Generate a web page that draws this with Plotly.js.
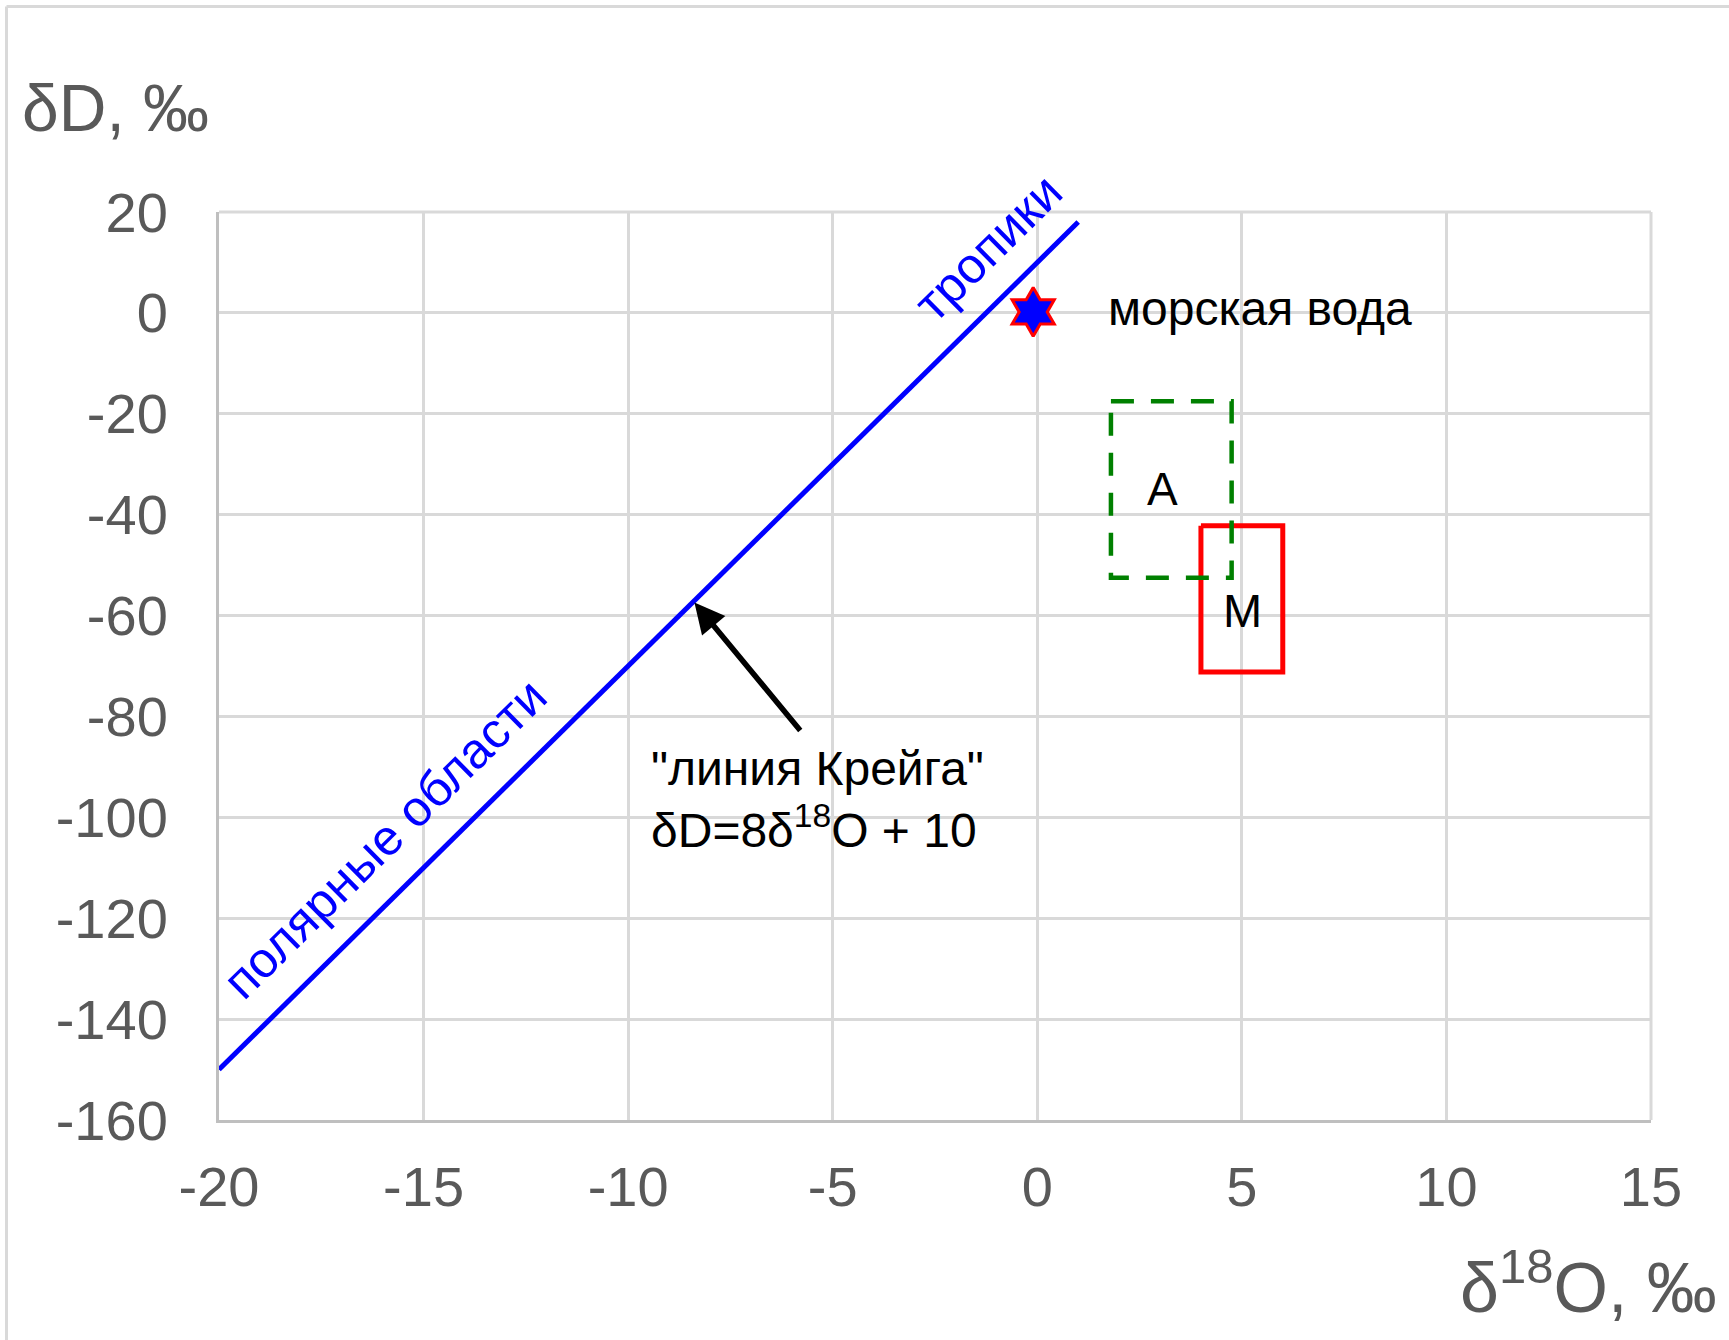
<!DOCTYPE html>
<html>
<head>
<meta charset="utf-8">
<script src="https://cdn.plot.ly/plotly-3.0.1.min.js"></script>
<style>html,body{margin:0;padding:0;background:#fff;}</style>
</head>
<body>
<div id="chart" style="width:1729px;height:1340px;"></div>
<script>
// ---- data ----
const craigX = [-20, 1];
const craigY = [-150, 18];
const seaX = [-0.1];
const seaY = [0.2];
const boxAX = [1.8, 4.75, 4.75, 1.8, 1.8];
const boxAY = [-17.5, -17.5, -52.5, -52.5, -17.5];
const boxMX = [4.0, 6.0, 6.0, 4.0, 4.0];
const boxMY = [-42.2, -42.2, -71.2, -71.2, -42.2];
const xTickVals = [-20, -15, -10, -5, 0, 5, 10, 15];
const xTickText = ['-20', '-15', '-10', '-5', '0', '5', '10', '15'];
const yTickVals = [20, 0, -20, -40, -60, -80, -100, -120, -140, -160];
const yTickText = ['20', '0', '-20', '-40', '-60', '-80', '-100', '-120', '-140', '-160'];

const FONT = 'Liberation Sans, Arial, sans-serif';
const traces = [
  {x: craigX, y: craigY, mode: 'lines', line: {color: '#0000ff', width: 5}, hoverinfo: 'skip'},
  {x: boxMX, y: boxMY, mode: 'lines', line: {color: '#ff0000', width: 5}, hoverinfo: 'skip'},
  {x: boxAX, y: boxAY, mode: 'lines', line: {color: '#008000', width: 4.5, dash: '23px,17px'}, hoverinfo: 'skip'},
  {x: seaX, y: seaY, mode: 'markers', marker: {symbol: 'hexagram', size: 37, color: '#0000ff', line: {color: '#ff0000', width: 3}}, hoverinfo: 'skip'}
];

const layout = {
  width: 1729, height: 1340,
  margin: {l: 219, r: 78, t: 212, b: 220},
  paper_bgcolor: '#ffffff', plot_bgcolor: '#ffffff',
  showlegend: false,
  font: {family: FONT},
  xaxis: {
    range: [-20, 15], tickvals: xTickVals, ticktext: xTickText,
    showgrid: true, gridcolor: '#d9d9d9', gridwidth: 3, zeroline: false,
    showline: true, linecolor: '#bfbfbf', linewidth: 3,
    ticks: '', ticklabelstandoff: 16,
    tickfont: {family: FONT, size: 56, color: '#595959'}
  },
  yaxis: {
    range: [-160, 20], tickvals: yTickVals, ticktext: yTickText,
    showgrid: true, gridcolor: '#d9d9d9', gridwidth: 3, zeroline: false,
    showline: true, linecolor: '#bfbfbf', linewidth: 3,
    ticks: '', ticklabelstandoff: 37,
    tickfont: {family: FONT, size: 56, color: '#595959'}
  },
  shapes: [
    {type: 'line', xref: 'paper', yref: 'paper', x0: -0.1484, x1: -0.1484, y0: 1.2263, y1: -0.25, line: {color: '#d9d9d9', width: 3}},
    {type: 'line', xref: 'paper', yref: 'paper', x0: -0.1484, x1: 1.06, y0: 1.2263, y1: 1.2263, line: {color: '#d9d9d9', width: 3}},
    {type: 'line', xref: 'paper', yref: 'paper', x0: 0, x1: 1, y0: 1, y1: 1, layer: 'below', line: {color: '#d9d9d9', width: 3}},
    {type: 'line', xref: 'paper', yref: 'paper', x0: 1, x1: 1, y0: 0, y1: 1, layer: 'below', line: {color: '#d9d9d9', width: 3}}
  ],
  annotations: [
    {xref: 'paper', yref: 'paper', x: -0.139, y: 1.1145, xanchor: 'left', yanchor: 'middle', showarrow: false,
     text: 'δD, ‰', font: {family: FONT, size: 66, color: '#595959'}},
    {xref: 'paper', yref: 'paper', x: 1.0475, y: -0.1795, xanchor: 'right', yanchor: 'middle', showarrow: false,
     text: 'δ<sup>18</sup>O, ‰', font: {family: FONT, size: 70, color: '#595959'}},
    {x: 1.68, y: 0.8, xanchor: 'left', yanchor: 'middle', showarrow: false,
     text: 'морская вода', font: {family: FONT, size: 48, color: '#000000'}},
    {x: 3.06, y: -35, xanchor: 'center', yanchor: 'middle', showarrow: false,
     text: 'A', font: {family: FONT, size: 46, color: '#000000'}},
    {x: 5.02, y: -59, xanchor: 'center', yanchor: 'middle', showarrow: false,
     text: 'M', font: {family: FONT, size: 47, color: '#000000'}},
    {x: -1.2, y: 12.8, xanchor: 'center', yanchor: 'middle', showarrow: false, textangle: -44.6,
     text: 'тропики', font: {family: FONT, size: 50, color: '#0000ff'}},
    {x: -15.95, y: -104.3, xanchor: 'center', yanchor: 'middle', showarrow: false, textangle: -44.6,
     text: 'полярные области', font: {family: FONT, size: 50, color: '#0000ff'}},
    {x: -8.38, y: -57.4, ax: -5.72, ay: -83.5, axref: 'x', ayref: 'y', showarrow: true,
     arrowhead: 2, arrowsize: 1.1, arrowwidth: 5.5, arrowcolor: '#000000', text: ' ', standoff: 0},
    {x: -9.48, y: -96.4, xanchor: 'left', yanchor: 'middle', align: 'left', showarrow: false,
     text: '"линия Крейга"<br>δD=8δ<sup>18</sup>O + 10', font: {family: FONT, size: 48, color: '#000000'}}
  ]
};

Plotly.newPlot('chart', traces, layout, {displayModeBar: false, staticPlot: true});
</script>
</body>
</html>
